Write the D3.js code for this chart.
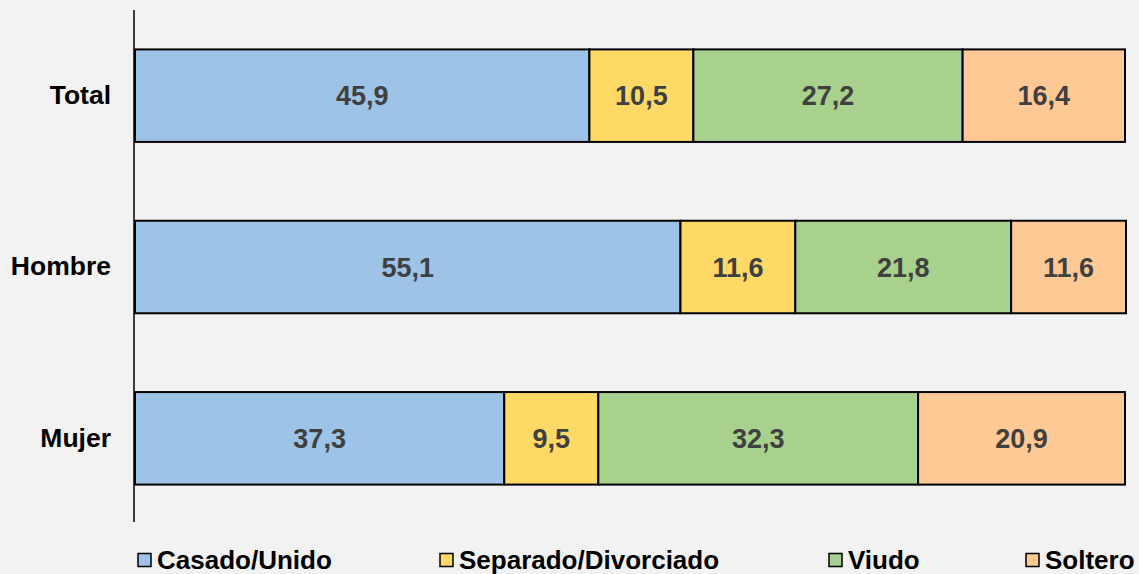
<!DOCTYPE html>
<html>
<head>
<meta charset="utf-8">
<script src="https://cdn.jsdelivr.net/npm/d3@7"></script>
<style>
  body { margin: 0; background: #f2f2f2; }
  text { font-family: Arial, "Liberation Sans", sans-serif; font-weight: bold; }
</style>
</head>
<body>
<div id="chart"></div>
<script>
// categories (top to bottom)
var categories = ["Total", "Hombre", "Mujer"];
// series
var series = ["Casado/Unido", "Separado/Divorciado", "Viudo", "Soltero"];
var colors = ["#9dc3e6", "#ffd966", "#a9d18e", "#ffc996"];
// values per series, in category order
var casado = [45.9, 55.1, 37.3];
var separado = [10.5, 11.6, 9.5];
var viudo = [27.2, 21.8, 32.3];
var soltero = [16.4, 11.6, 20.9];

var W = 1139, H = 574;
var margin = { top: 10, left: 135, right: 14, bottom: 50 };

var svg = d3.select("#chart").append("svg")
    .attr("width", W).attr("height", H);

svg.append("rect").attr("width", W).attr("height", H).attr("fill", "#f2f2f2");

var values = [casado, separado, viudo, soltero];
var rows = categories.map(function(c, i) {
	var r = { cat: c };
	series.forEach(function(s, j) { r[s] = values[j][i]; });
	return r;
});

var stack = d3.stack().keys(series)(rows);

var x = d3.scaleLinear().domain([0, 100]).range([margin.left, W - margin.right]);
var y = d3.scaleBand().domain(categories)
    .range([margin.top, H - margin.bottom]).paddingInner(0.46).paddingOuter(0.23);

var groups = svg.selectAll(".serie").data(stack).enter()
    .append("g").attr("class", "serie");

groups.selectAll("rect").data(function(d) { return d; }).enter()
    .append("rect")
    .attr("x", function(d) { return x(d[0]); })
    .attr("y", function(d) { return y(d.data.cat); })
    .attr("width", function(d) { return x(d[1]) - x(d[0]); })
    .attr("height", y.bandwidth())
    .attr("fill", function(d) { return colors[series.indexOf(d3.select(this.parentNode).datum().key)]; })
    .attr("stroke", "#000").attr("stroke-width", 2);

groups.selectAll("text").data(function(d) { return d; }).enter()
    .append("text")
    .attr("x", function(d) { return (x(d[0]) + x(d[1])) / 2; })
    .attr("y", function(d) { return y(d.data.cat) + y.bandwidth() / 2; })
    .attr("dy", "0.36em")
    .attr("text-anchor", "middle")
    .attr("font-size", 27)
    .attr("fill", "#404040")
    .text(function(d) { return d3.format(".1f")(d[1] - d[0]).replace(".", ","); });

// category axis
var yAxis = svg.append("g").attr("transform", "translate(" + (margin.left - 1) + ",0)")
    .call(d3.axisLeft(y).tickSize(0).tickPadding(23));
yAxis.select(".domain").attr("d", "M0," + margin.top + "V" + 522)
    .attr("stroke", "#000").attr("stroke-width", 1.5);
yAxis.selectAll("text").attr("font-size", 26.5).attr("fill", "#000")
    .attr("font-family", "Arial, 'Liberation Sans', sans-serif").attr("font-weight", "bold");

// legend
var legendX = [138, 440, 829, 1026];
var legend = svg.selectAll(".legend").data(series).enter()
    .append("g").attr("class", "legend")
    .attr("transform", function(d, i) { return "translate(" + legendX[i] + ",553.5)"; });
legend.append("rect").attr("width", 13).attr("height", 13)
    .attr("fill", function(d, i) { return colors[i]; })
    .attr("stroke", "#000").attr("stroke-width", 1.5);
legend.append("text").attr("x", 19).attr("y", 6.5).attr("dy", "0.36em")
    .attr("font-size", 26).attr("fill", "#000")
    .text(function(d) { return d; });
</script>
</body>
</html>
